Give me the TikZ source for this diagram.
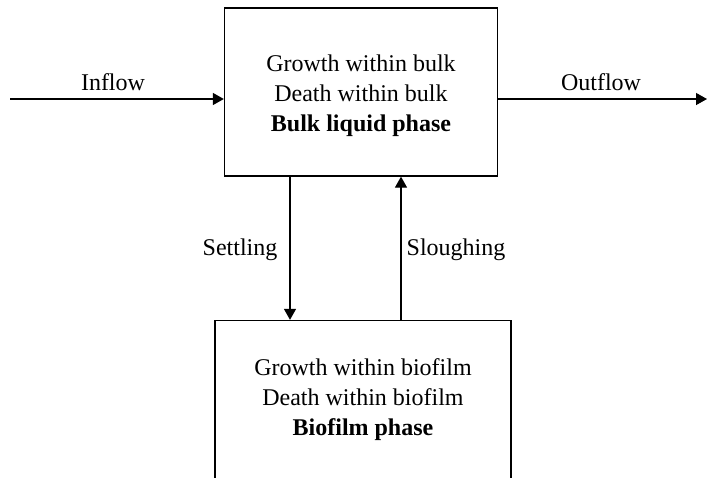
\documentclass[tikz,border=0pt]{standalone}
\usepackage{fontspec}
\setmainfont{Liberation Serif}
\usetikzlibrary{arrows.meta}
\begin{document}
\begin{tikzpicture}[x=0.5pt,y=-0.5pt,
  phasebox/.style={draw, line width=0.65pt, align=center, inner sep=0pt,
    font=\fontsize{12}{15}\selectfont},
  flow/.style={line width=0.65pt, -{Triangle[length=5.5pt,width=6pt]}},
  lbl/.style={font=\fontsize{12}{14}\selectfont, inner sep=0pt}]
  \useasboundingbox (0,0) rectangle (707,477);
  \clip (0,0) rectangle (707,477);

  % compartments
  \node[phasebox, minimum width=136.5pt, minimum height=84pt] (bulk) at (361,92)
    {\rule{0pt}{12pt}Growth within bulk\\Death within bulk\\\textbf{Bulk liquid phase}};
  \node[phasebox, minimum width=148pt, minimum height=79pt] (film) at (363,399.5)
    {Growth within biofilm\\Death within biofilm\\\textbf{Biofilm phase}};

  % helper points for the connectors
  \coordinate (inlet) at (10,99);
  \coordinate (outlet) at (707,99);
  \coordinate (settle) at (290,0);
  \coordinate (slough) at (401,0);

  % flows in and out of the bulk liquid
  \draw[flow] (inlet) -- (inlet -| bulk.west);
  \draw[flow] (outlet -| bulk.east) -- (outlet);

  % exchange between the phases
  \draw[flow] (settle |- bulk.south) -- (settle |- film.north);
  \draw[flow] (slough |- film.north) -- (slough |- bulk.south);

  % labels
  \node[lbl] (inlbl) at (113,82) {Inflow};
  \node[lbl] (outlbl) at (601,82) {Outflow};
  \node[lbl] (setlbl) at (240,250) {Settling};
  \node[lbl] (sloulbl) at (456,250) {Sloughing};
\end{tikzpicture}
\end{document}
